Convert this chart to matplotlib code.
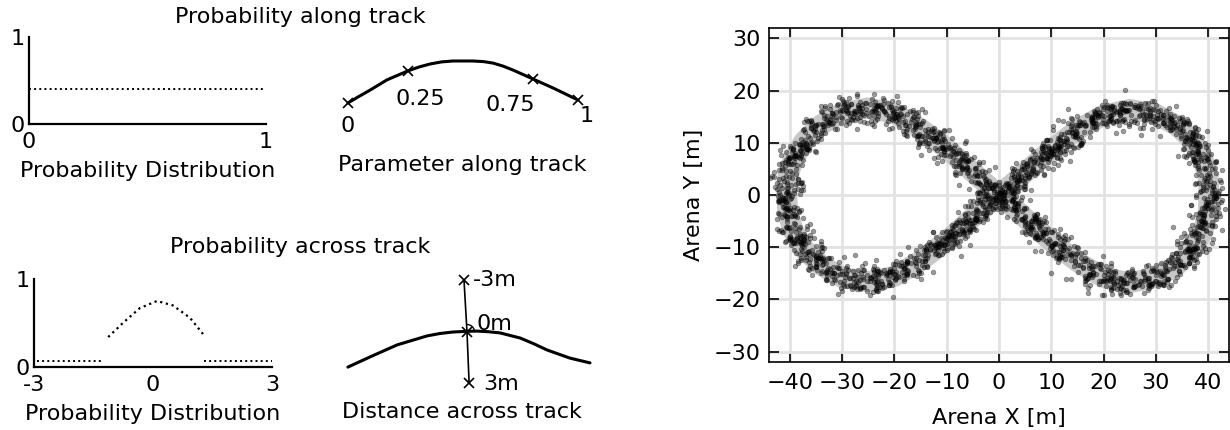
import numpy as np
import matplotlib
matplotlib.use('Agg')
import matplotlib.pyplot as plt
from matplotlib.patches import Arc

FS = 16
W, H = 1230, 430

# uniform probability along the track
along_x = [0, 1]
along_p = [0.4, 0.4]

# schematic track piece (arbitrary units) and the parameter markers on it
track_x = [0.93, 1.3, 1.67, 2.23, 2.93, 3.3, 3.67, 4.05, 4.43, 5.1, 5.45, 5.77, 6.1, 6.43, 7.1, 7.77, 8.6]
track_y = [2.9, 3.12, 3.33, 3.67, 3.97, 4.1, 4.2, 4.27, 4.3, 4.3, 4.28, 4.23, 4.13, 4.0, 3.7, 3.4, 3.0]
param_x = [0.93, 2.93, 7.1, 8.6]
param_y = [2.9, 3.97, 3.7, 3.0]
param_labels = ['0', '0.25', '0.75', '1']

# probability across the track
across_x = [-1.13, -0.76, -0.33, 0.10, 0.50, 0.93, 1.26]
across_p = [0.34, 0.50, 0.67, 0.75, 0.70, 0.56, 0.375]
tail_left_x = [-2.92, -1.26]
tail_right_x = [1.28, 3.0]
tail_p = [0.07, 0.07]

# schematic track with a cross-track line
cross_track_x = [0.93, 1.67, 2.57, 3.57, 4.0, 4.43, 4.85, 5.23, 5.6, 6.0, 6.67, 7.1, 7.57, 8.33, 9.0]
cross_track_y = [1.93, 2.27, 2.67, 2.97, 3.05, 3.1, 3.12, 3.13, 3.11, 3.07, 2.9, 2.72, 2.5, 2.23, 2.07]
cross_x = [4.8, 4.9, 4.97]
cross_y = [4.83, 3.1, 1.4]
cross_labels = ['-3m', '0m', '3m']

# figure-eight arena track, centre line
eight_x = [0, 5, 10, 15, 20, 25, 30, 34, 37, 39, 40, 40.2,
           40, 39, 37, 34, 30, 25, 20, 15, 10, 5, 0,
           -5, -10, -15, -20, -25, -30, -34, -37.3, -39.3, -40.4, -40.6,
           -40.4, -39.3, -37, -34, -30, -25, -20, -15, -10, -5, 0]
eight_y = [0, 4.3, 8.7, 12.5, 15.3, 16.4, 15.5, 13.3, 10.5, 7, 3.5, 0,
           -3.5, -7, -10.5, -13.5, -15.8, -16.8, -15.8, -12.8, -8.9, -4.4, 0,
           4.4, 8.9, 12.7, 15.6, 16.7, 15.7, 13.5, 10.3, 7, 3.5, 0,
           -3.5, -7, -10.7, -13.5, -15.8, -16.6, -15.6, -12.6, -8.8, -4.3, 0]
n_samples = 2300
noise_std = 1.4


def box(x0, y0, x1, y1):
    # pixel box -> figure fraction [left, bottom, width, height]
    return [x0 / W, 1 - y1 / H, (x1 - x0) / W, (y1 - y0) / H]


def dist_axes(ax):
    for s in ['top', 'right']:
        ax.spines[s].set_visible(False)
    for s in ['left', 'bottom']:
        ax.spines[s].set_linewidth(1.6)
    ax.tick_params(length=0, labelsize=FS)
    ax.patch.set_alpha(0)


fig = plt.figure(figsize=(W / 100, H / 100), dpi=100)

fig.text(300 / W, 1 - 17 / H, 'Probability along track', ha='center', va='center', fontsize=FS)
fig.text(300 / W, 1 - 247 / H, 'Probability across track', ha='center', va='center', fontsize=FS)

# along-track distribution
ax1 = fig.add_axes(box(29, 37, 266, 124))
dist_axes(ax1)
ax1.plot(along_x, along_p, ls=':', lw=1.4, color='k')
ax1.set_xlim(0, 1)
ax1.set_ylim(0, 1)
ax1.set_xticks([0, 1])
ax1.set_xticklabels(['0', '1'])
ax1.set_yticks([0, 1])
ax1.set_yticklabels(['0', '1'])
ax1.tick_params(axis='x', pad=6)
ax1.tick_params(axis='y', pad=3)
ax1.set_xlabel('Probability Distribution', fontsize=FS, labelpad=6)

# parameter along track
ax2 = fig.add_axes(box(320, 40, 620, 190))
ax2.set_axis_off()
ax2.set_xlim(0, 10)
ax2.set_ylim(0, 5)
ax2.plot(track_x, track_y, color='k', lw=2.2, solid_capstyle='round', solid_joinstyle='round')
ax2.plot(param_x, param_y, 'x', color='k', ms=7, mew=1.2)
label_off = [(0.0, -0.77), (0.4, -0.94), (-0.77, -0.87), (0.3, -0.53)]
for x, y, t, (dx, dy) in zip(param_x, param_y, param_labels, label_off):
    ax2.text(x + dx, y + dy, t, ha='center', va='center', fontsize=FS)
ax2.text(4.73, 0.83, 'Parameter along track', ha='center', va='center', fontsize=FS)

# across-track distribution
ax3 = fig.add_axes(box(34, 279, 272, 367))
dist_axes(ax3)
ax3.plot(across_x, across_p, ls=':', lw=1.6, color='k')
ax3.plot(tail_left_x, tail_p, ls=':', lw=1.4, color='k')
ax3.plot(tail_right_x, tail_p, ls=':', lw=1.4, color='k')
ax3.set_xlim(-3, 3)
ax3.set_ylim(0, 1)
ax3.set_xticks([-3, 0, 3])
ax3.set_xticklabels(['-3', '0', '3'])
ax3.set_yticks([0, 1])
ax3.set_yticklabels(['0', '1'])
ax3.tick_params(axis='x', pad=6)
ax3.tick_params(axis='y', pad=3)
ax3.set_xlabel('Probability Distribution', fontsize=FS, labelpad=6)

# distance across track
ax4 = fig.add_axes(box(320, 260, 620, 425))
ax4.set_axis_off()
ax4.set_xlim(0, 10)
ax4.set_ylim(0, 5.5)
ax4.plot(cross_track_x, cross_track_y, color='k', lw=2.2, solid_capstyle='round', solid_joinstyle='round')
ax4.plot(cross_x, cross_y, color='k', lw=1.2)
ax4.plot(cross_x, cross_y, 'x', color='k', ms=7, mew=1.2)
ax4.add_patch(Arc((cross_x[1], cross_y[1]), 0.5, 0.5, theta1=0, theta2=95, color='k', lw=1))
cross_off = [(0.28, 0.0), (0.33, 0.25), (0.46, -0.05)]
for x, y, t, (dx, dy) in zip(cross_x, cross_y, cross_labels, cross_off):
    ax4.text(x + dx, y + dy, t, ha='left', va='center', fontsize=FS)
ax4.text(4.73, 0.43, 'Distance across track', ha='center', va='center', fontsize=FS)

# arena: figure-eight track with noisy position samples
ax5 = fig.add_axes(box(769, 28, 1229, 362))
ax5.set_axisbelow(True)
ax5.grid(True, color='#e2e2e2', lw=2)
ax5.plot(eight_x, eight_y, color='#c8c8c8', lw=15, solid_capstyle='round', solid_joinstyle='round', zorder=1)

# scatter of measured positions around the centre line (seeded jitter)
ex = np.array(eight_x, dtype=float)
ey = np.array(eight_y, dtype=float)
seg = np.hypot(np.diff(ex), np.diff(ey))
arc = np.concatenate([[0], np.cumsum(seg)])
rng = np.random.default_rng(3)
s = rng.uniform(0, arc[-1], n_samples)
px = np.interp(s, arc, ex) + rng.normal(0, noise_std, n_samples)
py = np.interp(s, arc, ey) + rng.normal(0, noise_std, n_samples)
ax5.scatter(px, py, s=12, c='k', alpha=0.4, linewidths=0.4, edgecolors='k', zorder=2)

ax5.set_xlim(-44, 44)
ax5.set_ylim(-32, 32)
ax5.set_xticks(np.arange(-40, 41, 10))
ax5.set_yticks(np.arange(-30, 31, 10))
ax5.tick_params(direction='in', top=True, right=True, length=7, width=1.2, labelsize=FS)
ax5.tick_params(axis='x', pad=8)
ax5.tick_params(axis='y', pad=6)
for sp in ax5.spines.values():
    sp.set_linewidth(1.2)
ax5.set_xlabel('Arena X [m]', fontsize=FS, labelpad=11)
ax5.set_ylabel('Arena Y [m]', fontsize=FS, labelpad=7)

fig.savefig('out.png', dpi=100)
